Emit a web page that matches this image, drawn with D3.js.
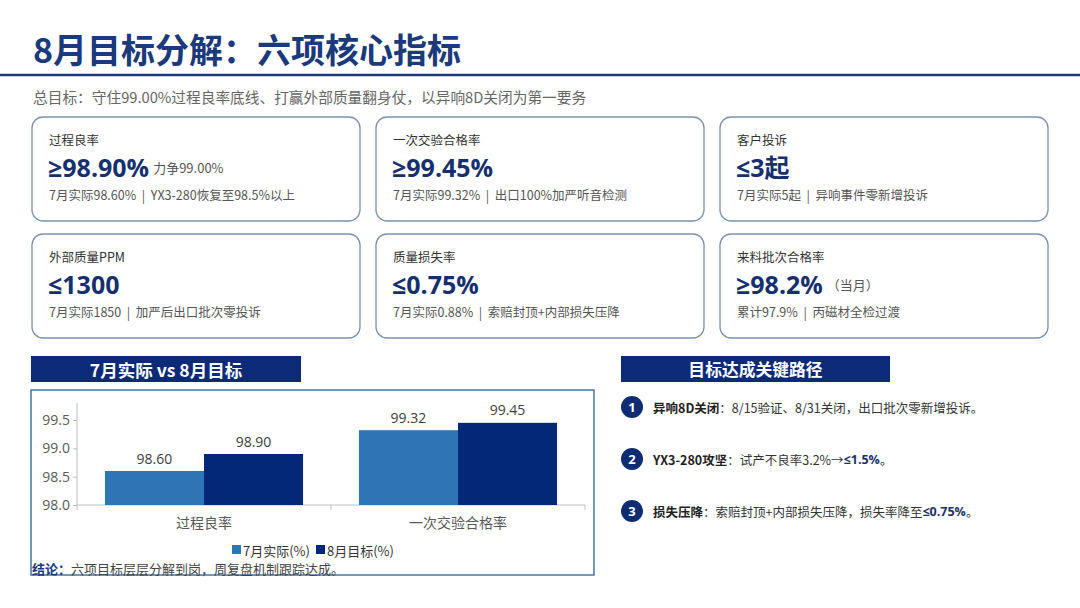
<!DOCTYPE html>
<html lang="zh">
<head>
<meta charset="UTF-8">
<script src="https://cdn.jsdelivr.net/npm/d3@7"></script>
<title>8月目标分解</title>
<style>
    body { margin: 0; background: #fff; }
    svg { display: block; font-family: "Noto Sans CJK SC", sans-serif; }
    .num { font-family: "Open Sans", "Noto Sans CJK SC", sans-serif; }
</style>
</head>
<body>
<svg width="1080" height="608"></svg>
<script>
    // ---- data ----
    var categories = ["过程良率", "一次交验合格率"];
    var seriesNames = ["7月实际(%)", "8月目标(%)"];
    var julyActual = [98.60, 99.32];
    var augTarget = [98.90, 99.45];
    var yTicks = [98.0, 98.5, 99.0, 99.5];

    var cardLabels = ["过程良率", "一次交验合格率", "客户投诉", "外部质量PPM", "质量损失率", "来料批次合格率"];
    var cardValues = ["≥98.90%", "≥99.45%", "≤3起", "≤1300", "≤0.75%", "≥98.2%"];
    var cardSuffix = ["力争99.00%", "", "", "", "", "（当月）"];
    var cardNotes = [
        "7月实际98.60%  |  YX3-280恢复至98.5%以上",
        "7月实际99.32%  |  出口100%加严听音检测",
        "7月实际5起  |  异响事件零新增投诉",
        "7月实际1850  |  加严后出口批次零投诉",
        "7月实际0.88%  |  索赔封顶+内部损失压降",
        "累计97.9%  |  丙磁材全检过渡"
    ];

    var pathTitles = ["异响8D关闭", "YX3-280攻坚", "损失压降"];
    var pathTexts = ["：8/15验证、8/31关闭，出口批次零新增投诉。", "：试产不良率3.2%→", "：索赔封顶+内部损失压降，损失率降至"];
    var pathHighlights = ["", "≤1.5%", "≤0.75%"];
    var pathTails = ["", "。", "。"];

    var navy = "#0c2a78";
    var titleBlue = "#1b3a7c";
    var lightBar = "#2e75b6";
    var darkBar = "#032877";

    var svg = d3.select("svg");

    // ---- title ----
    svg.append("text")
        .attr("x", 33).attr("y", 48)
        .attr("dominant-baseline", "central")
        .attr("font-size", 34).attr("font-weight", "bold")
        .attr("fill", titleBlue)
        .text("8月目标分解：六项核心指标");
    svg.append("line")
        .attr("x1", 0).attr("x2", 1080).attr("y1", 75).attr("y2", 75)
        .attr("stroke", titleBlue).attr("stroke-width", 2.5);
    svg.append("text")
        .attr("x", 33).attr("y", 96)
        .attr("dominant-baseline", "central")
        .attr("font-size", 14.7).attr("fill", "#666")
        .text("总目标：守住99.00%过程良率底线、打赢外部质量翻身仗，以异响8D关闭为第一要务");

    // ---- cards ----
    var cardX = [32, 376, 720];
    var cardY = [117, 234];
    var cardW = 328, cardH = 104;

    var cards = svg.selectAll("g.card")
        .data(cardLabels)
        .enter()
        .append("g")
        .attr("class", "card")
        .attr("transform", function (d, i) {
            return "translate(" + cardX[i % 3] + "," + cardY[Math.floor(i / 3)] + ")";
        });

    cards.append("rect")
        .attr("width", cardW).attr("height", cardH)
        .attr("rx", 11)
        .attr("fill", "#fff")
        .attr("stroke", "#7d91a8").attr("stroke-width", 1.3);

    cards.append("text")
        .attr("x", 17).attr("y", 22)
        .attr("dominant-baseline", "central")
        .attr("font-size", 12.5).attr("fill", "#333")
        .text(function (d) { return d; });

    var valText = cards.append("text")
        .attr("x", 16).attr("y", 50)
        .attr("dominant-baseline", "central");
    valText.append("tspan")
        .attr("class", "num")
        .attr("font-size", 25).attr("font-weight", "bold")
        .attr("fill", "#16306e")
        .text(function (d, i) { return cardValues[i]; });
    valText.append("tspan")
        .attr("dx", 4)
        .attr("font-size", 13).attr("fill", "#555")
        .text(function (d, i) { return cardSuffix[i]; });

    cards.append("text")
        .attr("x", 17).attr("y", 77)
        .attr("dominant-baseline", "central")
        .attr("font-size", 12.5).attr("fill", "#555")
        .attr("xml:space", "preserve")
        .style("white-space", "pre")
        .text(function (d, i) { return cardNotes[i]; });

    // ---- section headers ----
    function header(x, w, label, size) {
        svg.append("rect")
            .attr("x", x).attr("y", 356).attr("width", w).attr("height", 26)
            .attr("fill", navy);
        svg.append("text")
            .attr("x", x + w / 2).attr("y", 369)
            .attr("text-anchor", "middle").attr("dominant-baseline", "central")
            .attr("font-size", size).attr("font-weight", "bold").attr("fill", "#fff")
            .text(label);
    }
    header(31, 270, "7月实际 vs 8月目标", 17.5);
    header(621, 269, "目标达成关键路径", 16.8);

    // ---- chart ----
    svg.append("rect")
        .attr("x", 31).attr("y", 390).attr("width", 563).attr("height", 185)
        .attr("fill", "#fff")
        .attr("stroke", "#3f78a8").attr("stroke-width", 1.5);

    var x0 = d3.scaleBand()
        .domain(categories)
        .range([77, 585])
        .paddingInner(0.22)
        .paddingOuter(0.11);
    var x1 = d3.scaleBand()
        .domain(seriesNames)
        .range([0, x0.bandwidth()])
        .padding(0);
    var y = d3.scaleLinear()
        .domain([98, 99.8])
        .range([505, 403]);

    var chart = svg.append("g");

    chart.append("line")
        .attr("x1", 77).attr("x2", 77).attr("y1", y(99.8)).attr("y2", y(98))
        .attr("stroke", "#bfbfbf");

    var yAxis = chart.append("g")
        .attr("transform", "translate(77,0)")
        .call(d3.axisLeft(y).tickValues(yTicks).tickFormat(d3.format(".1f")).tickSize(4).tickPadding(3));
    yAxis.select(".domain").remove();
    yAxis.selectAll("line").attr("stroke", "#bfbfbf");
    yAxis.selectAll("text")
        .attr("font-size", 14).attr("fill", "#595959")
        .attr("font-family", "Open Sans, Noto Sans CJK SC, sans-serif");

    chart.append("line")
        .attr("x1", 77).attr("x2", 585).attr("y1", y(98)).attr("y2", y(98))
        .attr("stroke", "#bfbfbf");
    var step = x0.step();
    chart.selectAll("line.xtick")
        .data([0, 1, 2])
        .enter()
        .append("line")
        .attr("class", "xtick")
        .attr("x1", function (d) { return 77 + d * step; })
        .attr("x2", function (d) { return 77 + d * step; })
        .attr("y1", y(98)).attr("y2", y(98) + 5)
        .attr("stroke", "#bfbfbf");

    var series = [julyActual, augTarget];
    var colors = [lightBar, darkBar];

    var groups = chart.selectAll("g.cat")
        .data(categories)
        .enter()
        .append("g")
        .attr("class", "cat")
        .attr("transform", function (d) { return "translate(" + x0(d) + ",0)"; });

    groups.selectAll("rect")
        .data(function (d, ci) {
            return seriesNames.map(function (s, si) {
                return {s: s, v: series[si][ci], c: colors[si]};
            });
        })
        .enter()
        .append("rect")
        .attr("x", function (d) { return x1(d.s); })
        .attr("y", function (d) { return y(d.v); })
        .attr("width", x1.bandwidth())
        .attr("height", function (d) { return y(98) - y(d.v); })
        .attr("fill", function (d) { return d.c; });

    groups.selectAll("text.val")
        .data(function (d, ci) {
            return seriesNames.map(function (s, si) {
                return {s: s, v: series[si][ci]};
            });
        })
        .enter()
        .append("text")
        .attr("class", "val num")
        .attr("x", function (d) { return x1(d.s) + x1.bandwidth() / 2; })
        .attr("y", function (d) { return y(d.v) - 13; })
        .attr("text-anchor", "middle").attr("dominant-baseline", "central")
        .attr("font-size", 14).attr("fill", "#404040")
        .text(function (d) { return d.v.toFixed(2); });

    groups.append("text")
        .attr("x", x0.bandwidth() / 2).attr("y", 522)
        .attr("text-anchor", "middle").attr("dominant-baseline", "central")
        .attr("font-size", 14).attr("fill", "#595959")
        .text(function (d) { return d; });

    // legend, laid out left to right from measured text widths
    var legend = chart.append("g").attr("transform", "translate(0,550)");
    var items = legend.selectAll("g.leg")
        .data(seriesNames)
        .enter()
        .append("g")
        .attr("class", "leg");
    items.append("rect")
        .attr("x", 0).attr("y", -5).attr("width", 9).attr("height", 9)
        .attr("fill", function (d, i) { return colors[i]; });
    items.append("text")
        .attr("x", 11).attr("y", 0)
        .attr("dominant-baseline", "central")
        .attr("font-size", 13).attr("fill", "#333")
        .text(function (d) { return d; });
    var widths = [];
    items.each(function () { widths.push(this.getBBox().width); });
    var total = d3.sum(widths) + 6 * (widths.length - 1);
    var lx = 313 - total / 2;
    items.attr("transform", function (d, i) {
        var t = "translate(" + lx + ",0)";
        lx += widths[i] + 6;
        return t;
    });

    // conclusion
    var concl = svg.append("text")
        .attr("x", 32).attr("y", 568)
        .attr("dominant-baseline", "central")
        .attr("font-size", 13);
    concl.append("tspan").attr("font-weight", "bold").attr("fill", titleBlue).text("结论：");
    concl.append("tspan").attr("fill", "#444").text("六项目标层层分解到岗，周复盘机制跟踪达成。");

    // ---- key path ----
    var pathY = [407, 459, 511];
    var steps = svg.selectAll("g.path")
        .data(pathTitles)
        .enter()
        .append("g")
        .attr("class", "path")
        .attr("transform", function (d, i) { return "translate(632," + pathY[i] + ")"; });
    steps.append("circle")
        .attr("r", 11)
        .attr("fill", "#0e2c72");
    steps.append("text")
        .attr("text-anchor", "middle").attr("dominant-baseline", "central")
        .attr("font-size", 13).attr("font-weight", "bold").attr("fill", "#fff")
        .attr("class", "num")
        .text(function (d, i) { return i + 1; });
    var pt = steps.append("text")
        .attr("x", 21).attr("y", 0)
        .attr("dominant-baseline", "central")
        .attr("font-size", 12.5);
    pt.append("tspan").attr("font-weight", "bold").attr("fill", "#222")
        .text(function (d) { return d; });
    pt.append("tspan").attr("fill", "#333")
        .text(function (d, i) { return pathTexts[i]; });
    pt.append("tspan").attr("font-weight", "bold").attr("fill", "#1b3166")
        .attr("class", "num")
        .text(function (d, i) { return pathHighlights[i]; });
    pt.append("tspan").attr("fill", "#333")
        .text(function (d, i) { return pathTails[i]; });
</script>
</body>
</html>
